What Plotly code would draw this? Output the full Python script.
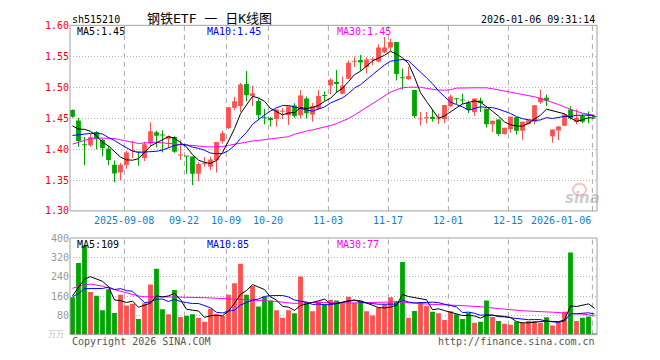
import numpy as np
import pandas as pd
import plotly.graph_objects as go

# ---------------- data ----------------
dates = [
    "2025-08-26", "2025-08-27", "2025-08-28", "2025-08-29",
    "2025-09-01", "2025-09-02", "2025-09-03", "2025-09-04", "2025-09-05",
    "2025-09-08", "2025-09-09", "2025-09-10", "2025-09-11", "2025-09-12",
    "2025-09-15", "2025-09-16", "2025-09-17", "2025-09-18", "2025-09-19",
    "2025-09-22", "2025-09-23", "2025-09-24", "2025-09-25", "2025-09-26",
    "2025-09-29", "2025-09-30",
    "2025-10-09", "2025-10-10",
    "2025-10-13", "2025-10-14", "2025-10-15", "2025-10-16", "2025-10-17",
    "2025-10-20", "2025-10-21", "2025-10-22", "2025-10-23", "2025-10-24",
    "2025-10-27", "2025-10-28", "2025-10-29", "2025-10-30", "2025-10-31",
    "2025-11-03", "2025-11-04", "2025-11-05", "2025-11-06", "2025-11-07",
    "2025-11-10", "2025-11-11", "2025-11-12", "2025-11-13", "2025-11-14",
    "2025-11-17", "2025-11-18", "2025-11-19", "2025-11-20", "2025-11-21",
    "2025-11-24", "2025-11-25", "2025-11-26", "2025-11-27", "2025-11-28",
    "2025-12-01", "2025-12-02", "2025-12-03", "2025-12-04", "2025-12-05",
    "2025-12-08", "2025-12-09", "2025-12-10", "2025-12-11", "2025-12-12",
    "2025-12-15", "2025-12-16", "2025-12-17", "2025-12-18", "2025-12-19",
    "2025-12-22", "2025-12-23", "2025-12-24", "2025-12-25", "2025-12-26",
    "2025-12-29", "2025-12-30", "2025-12-31",
    "2026-01-05", "2026-01-06",
]

open_ = [
    1.4630, 1.4460, 1.4070, 1.4060, 1.4270, 1.4151, 1.4005, 1.3745, 1.3620, 1.3745,
    1.3970, 1.3950, 1.3854, 1.4089, 1.4271, 1.4222, 1.4167, 1.4193, 1.3896, 1.3885,
    1.3880, 1.3599, 1.3755, 1.3714, 1.3818, 1.4125, 1.4339, 1.4667, 1.4698, 1.5052,
    1.4859, 1.4776, 1.4505, 1.4505, 1.4484, 1.4604, 1.4547, 1.4703, 1.4547, 1.4818,
    1.4557, 1.4651, 1.4862, 1.5026, 1.5083, 1.4896, 1.5135, 1.5412, 1.5438, 1.5328,
    1.5443, 1.5417, 1.5563, 1.5641, 1.5729, 1.5148, 1.5130, 1.4953, 1.4480, 1.4500,
    1.4521, 1.4480, 1.4484, 1.4693, 1.4808, 1.4788, 1.4745, 1.4599, 1.4786, 1.4651,
    1.4401, 1.4479, 1.4245, 1.4323, 1.4516, 1.4297, 1.4406, 1.4443, 1.4755, 1.4828,
    1.4208, 1.4302, 1.4375, 1.4641, 1.4443, 1.4536, 1.4538, 1.4523,
]
high = [
    1.4640, 1.4505, 1.4193, 1.4245, 1.4290, 1.4165, 1.4050, 1.3818, 1.3776, 1.3974,
    1.4130, 1.3955, 1.4120, 1.4432, 1.4297, 1.4302, 1.4219, 1.4208, 1.4151, 1.3885,
    1.3880, 1.3786, 1.3870, 1.3875, 1.4115, 1.4297, 1.4677, 1.4844, 1.5068, 1.5260,
    1.5026, 1.4820, 1.4651, 1.4521, 1.4641, 1.4661, 1.4693, 1.4740, 1.4953, 1.4849,
    1.4745, 1.4953, 1.4932, 1.5146, 1.5276, 1.5172, 1.5432, 1.5495, 1.5521, 1.5484,
    1.5484, 1.5693, 1.5813, 1.5786, 1.5729, 1.5302, 1.5328, 1.4953, 1.4599, 1.4599,
    1.4641, 1.4573, 1.4714, 1.4880, 1.4818, 1.4896, 1.4781, 1.4818, 1.4833, 1.4651,
    1.4458, 1.4479, 1.4344, 1.4521, 1.4516, 1.4443, 1.4464, 1.4708, 1.4964, 1.4880,
    1.4318, 1.4375, 1.4573, 1.4693, 1.4641, 1.4573, 1.4609, 1.4536,
]
low = [
    1.4505, 1.4036, 1.3740, 1.4036, 1.3995, 1.3880, 1.3740, 1.3464, 1.3495, 1.3682,
    1.3854, 1.3730, 1.3807, 1.4052, 1.4026, 1.3948, 1.4016, 1.3940, 1.3823, 1.3599,
    1.3417, 1.3480, 1.3714, 1.3661, 1.3620, 1.4089, 1.4323, 1.4625, 1.4599, 1.4771,
    1.4693, 1.4470, 1.4401, 1.4365, 1.4365, 1.4484, 1.4391, 1.4505, 1.4495, 1.4495,
    1.4443, 1.4635, 1.4781, 1.4885, 1.4911, 1.4885, 1.5135, 1.5328, 1.5266, 1.5224,
    1.5354, 1.5401, 1.5552, 1.5589, 1.5109, 1.4964, 1.5120, 1.4505, 1.4380, 1.4417,
    1.4443, 1.4406, 1.4417, 1.4677, 1.4729, 1.4729, 1.4583, 1.4536, 1.4599, 1.4349,
    1.4276, 1.4214, 1.4234, 1.4266, 1.4234, 1.4151, 1.4401, 1.4401, 1.4729, 1.4693,
    1.4104, 1.4146, 1.4375, 1.4479, 1.4401, 1.4417, 1.4417, 1.4505,
]
close = [
    1.4521, 1.4130, 1.4060, 1.4190, 1.4160, 1.4016, 1.3823, 1.3604, 1.3745, 1.3943,
    1.3985, 1.3945, 1.4078, 1.4286, 1.4214, 1.4219, 1.4208, 1.3958, 1.3911, 1.3880,
    1.3599, 1.3760, 1.3770, 1.3833, 1.4115, 1.4255, 1.4677, 1.4771, 1.5042, 1.4870,
    1.4901, 1.4547, 1.4500, 1.4469, 1.4641, 1.4609, 1.4693, 1.4536, 1.4865, 1.4578,
    1.4693, 1.4859, 1.4859, 1.5120, 1.5052, 1.5026, 1.5396, 1.5417, 1.5401, 1.5448,
    1.5448, 1.5641, 1.5641, 1.5729, 1.5214, 1.5146, 1.5182, 1.4536, 1.4484, 1.4505,
    1.4484, 1.4484, 1.4714, 1.4849, 1.4805, 1.4785, 1.4635, 1.4818, 1.4745, 1.4401,
    1.4458, 1.4245, 1.4344, 1.4521, 1.4297, 1.4443, 1.4464, 1.4708, 1.4828, 1.4781,
    1.4318, 1.4365, 1.4557, 1.4495, 1.4505, 1.4443, 1.4534, 1.4520,
]
volume = [
    155, 297, 368, 177, 161, 101, 188, 90, 165, 121,
    128, 65, 130, 208, 273, 105, 85, 185, 73, 78,
    85, 69, 53, 107, 86, 77, 165, 213, 293, 165,
    201, 117, 157, 141, 101, 70, 101, 89, 241, 135,
    97, 137, 126, 145, 141, 130, 157, 132, 140, 97,
    79, 112, 125, 155, 138, 301, 70, 98, 134, 119,
    95, 89, 61, 97, 84, 65, 91, 49, 53, 141,
    73, 57, 45, 41, 53, 49, 57, 57, 49, 72,
    38, 52, 95, 340, 57, 70, 75, 5,
]
# sessions before the window (estimated from where the MA lines start)
prior_close = [1.398, 1.402, 1.405, 1.409, 1.4185, 1.439, 1.4075, 1.436, 1.4529]
prior_volume = [170, 160, 175, 158, 102, 127, 193, 127, 203]

ma30_price = [
    1.408, 1.411, 1.414, 1.417, 1.418, 1.418, 1.418, 1.417, 1.415, 1.413,
    1.411, 1.409, 1.410, 1.411, 1.411, 1.410, 1.409, 1.409, 1.408, 1.406,
    1.405, 1.404, 1.404, 1.4035, 1.404, 1.404, 1.406, 1.408, 1.410, 1.412,
    1.413, 1.414, 1.415, 1.416, 1.417, 1.418, 1.420, 1.424, 1.427, 1.429,
    1.431, 1.433, 1.435, 1.438, 1.441, 1.445, 1.4495, 1.455, 1.461, 1.467,
    1.473, 1.480, 1.486, 1.492, 1.496, 1.499, 1.500, 1.5005, 1.500, 1.498,
    1.4965, 1.4955, 1.495, 1.496, 1.4985, 1.499, 1.499, 1.499, 1.499, 1.499,
    1.4975, 1.496, 1.494, 1.492, 1.490, 1.4885, 1.487, 1.4845, 1.482, 1.479,
    1.4755, 1.472, 1.468, 1.464, 1.461, 1.458, 1.456, 1.4547,
]
ma30_volume = [
    192, 200, 206, 209, 206, 201, 193, 186, 180, 172,
    167, 160, 157, 156, 156, 156, 156, 156, 156, 155,
    155, 154, 153, 152, 151, 150, 149, 148, 147, 146,
    144, 142, 140, 139, 137, 134, 131, 129, 131, 133,
    133, 133, 132, 131, 130, 130, 131, 131, 132, 133,
    134, 135, 136, 137, 136, 134, 132, 130, 128, 126,
    125, 125, 124, 123, 122, 121, 120, 118, 116, 113,
    110, 108, 105, 103, 101, 99, 97, 96, 95, 94,
    93, 92, 91, 90, 88, 85, 82, 77,
]

tick_dates = ["2025-09-08", "2025-09-22", "2025-10-09", "2025-10-20", "2025-11-03",
              "2025-11-17", "2025-12-01", "2025-12-15", "2026-01-06"]
tick_text = ["2025-09-08", "09-22", "10-09", "10-20", "11-03",
             "11-17", "12-01", "12-15", "2026-01-06"]
price_ticks = [1.30, 1.35, 1.40, 1.45, 1.50, 1.55, 1.60]
volume_ticks = [80, 160, 240, 320, 400]

# ---------------- derived ----------------
n = len(dates)
idx = np.arange(n)
o = np.array(open_); h = np.array(high); l = np.array(low); c = np.array(close)
v = np.array(volume, dtype=float)

cs = pd.Series(prior_close + close)
ma5 = cs.rolling(5).mean().values[len(prior_close):]
ma10 = cs.rolling(10).mean().values[len(prior_close):]
vs = pd.Series(prior_volume + volume, dtype=float)
vma5 = vs.rolling(5).mean().values[len(prior_volume):]
vma10 = vs.rolling(10).mean().values[len(prior_volume):]

up = c >= o
RED = "#ff5050"
GREEN = "#00a600"
MONO = "DejaVu Sans Mono"

W, H = 660, 360
L_PX, R_PX = 70, 597
P_TOP, P_BOT = 20, 212
V_TOP, V_BOT = 240, 340
x_lo = (L_PX - 72.5) / 6.0
x_hi = (R_PX - 72.5) / 6.0


def px(xp):
    return xp / W


def py(yp):
    return 1 - yp / H


fig = go.Figure()


def wick_xy(mask):
    xs, ys = [], []
    for i in idx[mask]:
        xs += [i, i, None]
        ys += [l[i], h[i], None]
    return xs, ys


body_min = 0.0016
for mask, col in [(up, RED), (~up, GREEN)]:
    wx, wy = wick_xy(mask)
    fig.add_trace(go.Scatter(x=wx, y=wy, mode="lines", line=dict(color=col, width=1),
                             xaxis="x", yaxis="y", hoverinfo="skip", showlegend=False))
    bot = np.minimum(o, c)[mask]
    hgt = np.maximum(np.abs(c - o)[mask], body_min)
    fig.add_trace(go.Bar(x=idx[mask], y=hgt, base=bot, width=0.8,
                         marker=dict(color=col, line=dict(width=0)),
                         xaxis="x", yaxis="y", showlegend=False,
                         customdata=np.array(dates)[mask], hoverinfo="skip"))

for arr, col in [(ma30_price, "#ff00ff"), (ma10, "#0000ff"), (ma5, "#000000")]:
    fig.add_trace(go.Scatter(x=idx, y=arr, mode="lines", line=dict(color=col, width=1),
                             xaxis="x", yaxis="y", hoverinfo="skip", showlegend=False))

vcols = [RED if u else GREEN for u in up]
fig.add_trace(go.Bar(x=idx, y=v, width=0.8, marker=dict(color=vcols, line=dict(width=0)),
                     xaxis="x2", yaxis="y2", showlegend=False, hoverinfo="skip"))
for arr, col in [(ma30_volume, "#ff00ff"), (vma10, "#0000ff"), (vma5, "#000000")]:
    fig.add_trace(go.Scatter(x=idx, y=arr, mode="lines", line=dict(color=col, width=1),
                             xaxis="x2", yaxis="y2", hoverinfo="skip", showlegend=False))

shapes = []
tick_pos = [dates.index(d) - 0.35 for d in tick_dates]
for tp in tick_pos:
    for xr, yr in [("x", "y domain"), ("x2", "y2 domain")]:
        shapes.append(dict(type="line", xref=xr, yref=yr, x0=tp, x1=tp, y0=0, y1=1,
                           line=dict(color="#a8a8a8", width=1, dash="5px,4px"), layer="below"))
for top, bot in [(P_TOP, P_BOT), (V_TOP, V_BOT)]:
    shapes.append(dict(type="rect", xref="paper", yref="paper",
                       x0=px(L_PX), x1=px(R_PX), y0=py(bot), y1=py(top),
                       line=dict(color="#a0a0a0", width=1), layer="above"))
# sina watermark logo ring
shapes.append(dict(type="circle", xref="paper", yref="paper",
                   x0=px(573), x1=px(586), y0=py(196), y1=py(184),
                   line=dict(color="rgba(240,120,120,0.45)", width=2), layer="above"))

ann = []


def text(x, y, s, color="#000", size=10, xanchor="left", family=MONO, **kw):
    ann.append(dict(x=px(x), y=py(y), xref="paper", yref="paper", text=s, showarrow=False,
                    xanchor=xanchor, yanchor="middle",
                    font=dict(family=family, size=size, color=color, **kw)))


text(70, 13.5, "sh515210")
text(209, 13, "钢铁ETF 一 日K线图", size=13, xanchor="center",
     family="DejaVu Sans Mono, Noto Sans CJK SC")
text(597, 13.5, "2026-01-06 09:31:14", xanchor="right")
text(75, 26.5, f"MA5:{ma5[-1]:.2f}")
text(205, 26.5, f"MA10:{ma10[-1]:.2f}", color="#0000ff")
text(335, 26.5, f"MA30:{ma30_price[-1]:.2f}", color="#ff00ff")
text(75, 246.5, f"MA5:{vma5[-1]:.0f}")
text(205, 246.5, f"MA10:{vma10[-1]:.0f}", color="#0000ff")
text(335, 246.5, f"MA30:{ma30_volume[-1]:.0f}", color="#ff00ff")
text(70, 347, "Copyright 2026 SINA.COM", color="#555555")
text(597, 347, "http://finance.sina.com.cn", color="#555555", xanchor="right")
text(56, 339, "万万", color="#bbbbbb", size=8, xanchor="center", family="Noto Sans CJK SC")
text(582, 199, "sina", color="rgba(170,170,170,0.6)", size=15, xanchor="center",
     family="DejaVu Sans", weight="bold", style="italic")

for tp, tt in zip(tick_pos, tick_text):
    xa = "right" if tt == tick_text[-1] else "center"
    ann.append(dict(x=tp + (0.1 if xa == "right" else 0), y=py(221.5), xref="x", yref="paper",
                    text=tt, showarrow=False, xanchor=xa, yanchor="middle",
                    font=dict(family=MONO, size=10, color="#0a7fd4")))

grid_common = dict(showgrid=True, gridcolor="#b4b4b4", gridwidth=1, griddash="1px,2px",
                   zeroline=False, showline=False, ticks="", fixedrange=True)

fig.update_layout(
    width=W, height=H, autosize=False,
    margin=dict(l=0, r=0, t=0, b=0, pad=0),
    paper_bgcolor="white", plot_bgcolor="white",
    barmode="overlay", showlegend=False, hovermode=False,
    shapes=shapes, annotations=ann,
    xaxis=dict(domain=[px(L_PX), px(R_PX)], range=[x_lo, x_hi], anchor="y",
               showticklabels=False, showgrid=False, zeroline=False, fixedrange=True),
    xaxis2=dict(domain=[px(L_PX), px(R_PX)], range=[x_lo, x_hi], anchor="y2", matches="x",
                showticklabels=False, showgrid=False, zeroline=False, fixedrange=True),
    yaxis=dict(domain=[py(P_BOT), py(P_TOP)], range=[1.30, 1.60], anchor="x",
               tickvals=price_ticks, ticktext=[f"{t:.2f}" for t in price_ticks],
               tickfont=dict(family=MONO, size=10, color="#ff0000"), **grid_common),
    yaxis2=dict(domain=[py(V_BOT), py(V_TOP)], range=[0, 400], anchor="x2",
                tickvals=volume_ticks, ticktext=[str(t) for t in volume_ticks],
                tickfont=dict(family=MONO, size=10, color="#999999"), **grid_common),
)

fig.write_html(
    "out.html",
    config={"staticPlot": True, "displayModeBar": False},
    post_script="document.body.style.margin='0';document.body.style.overflow='hidden';",
)
